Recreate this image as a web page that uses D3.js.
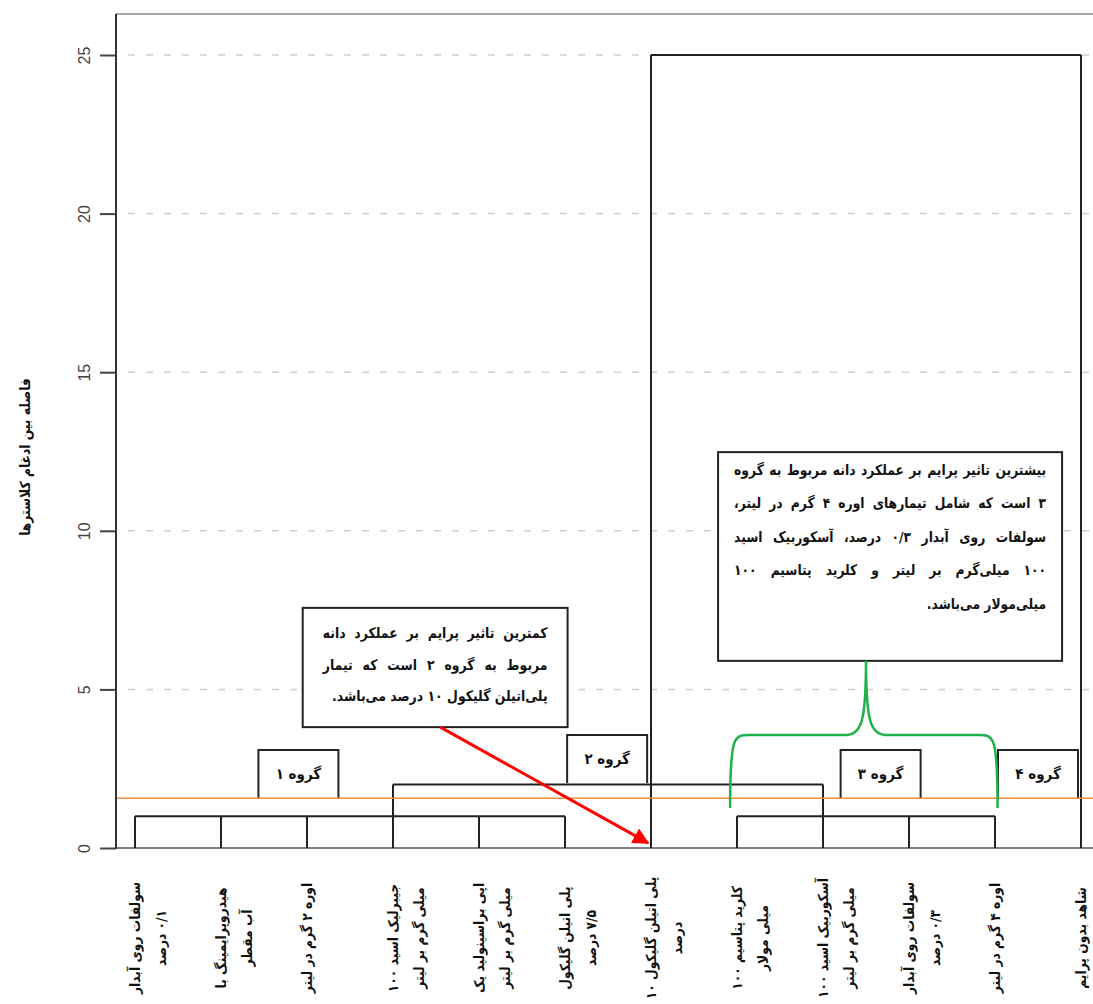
<!DOCTYPE html>
<html>
<head>
<meta charset="utf-8">
<script src="https://cdn.jsdelivr.net/npm/d3@7"></script>
<style>
  html, body { margin: 0; padding: 0; background: #fff; }
  svg { display: block; }
  .fa { font-family: "DejaVu Sans", sans-serif; font-weight: bold; }
</style>
</head>
<body>
<svg id="chart" width="1093" height="1004"></svg>
<script>
// Treatments (leaves of the dendrogram), left to right; each entry holds the label lines
const leafLabels = [
  ["سولفات روی آبدار", "۰/۱ درصد"],
  ["هیدروپرایمینگ با", "آب مقطر"],
  ["اوره ۲ گرم در لیتر"],
  ["جیبرلیک اسید ۱۰۰", "میلی گرم بر لیتر"],
  ["اپی براسینولید یک", "میلی گرم بر لیتر"],
  ["پلی اتیلن گلیکول", "۷/۵ درصد"],
  ["پلی اتیلن گلیکول ۱۰", "درصد"],
  ["کلرید پتاسیم ۱۰۰", "میلی مولار"],
  ["آسکوربیک اسید ۱۰۰", "میلی گرم بر لیتر"],
  ["سولفات روی آبدار", "۰/۳ درصد"],
  ["اوره ۴ گرم در لیتر"],
  ["شاهد بدون پرایم"]
];

// Cluster joins: leaves (by index) that are tied together, join height, and where the legs start
const joinLeaves  = [[0, 1, 2, 3, 4, 5], [7, 8, 9, 10], [3, 8], [6, 11]];
const joinHeights = [1, 1, 2, 25];
const joinBases   = [0, 0, 1, 0];

// Height where the tree is cut into groups
const cutHeight = 1.57;

// Axis
const yTicks = [0, 5, 10, 15, 20, 25];
const yTitle = "فاصله بین ادغام کلاسترها";

// Group names and callout texts
const groupNames = ["گروه ۱", "گروه ۲", "گروه ۳", "گروه ۴"];
const lowNote = [
  "کمترین تاثیر پرایم بر عملکرد دانه",
  "مربوط به گروه ۲ است که تیمار",
  "پلی‌اتیلن گلیکول ۱۰ درصد می‌باشد."
];
const highNote = [
  "بیشترین تاثیر پرایم بر عملکرد دانه مربوط به گروه",
  "۳ است که شامل تیمارهای اوره ۴ گرم در لیتر،",
  "سولفات روی آبدار ۰/۳ درصد، آسکوربیک اسید",
  "۱۰۰ میلی‌گرم بر لیتر و کلرید پتاسیم ۱۰۰",
  "میلی‌مولار می‌باشد."
];

// ---------------------------------------------------------------
const W = 1093, H = 1004;
const frameLeft = 116, frameTop = 14, frameRight = W;
const svg = d3.select("#chart");

const x = d3.scaleLinear().domain([0, leafLabels.length - 1]).range([135, 1081]);
const y = d3.scaleLinear().domain([0, 25]).range([848, 55]);

// grid lines
svg.append("g").selectAll("line").data(yTicks.filter(d => d > 0)).join("line")
  .attr("x1", frameLeft + 12).attr("x2", frameRight)
  .attr("y1", d => y(d)).attr("y2", d => y(d))
  .attr("stroke", "#cfcfcf").attr("stroke-width", 1.5)
  .attr("stroke-dasharray", "7,11");

// frame: top and bottom lines
svg.append("line").attr("x1", frameLeft).attr("x2", frameRight).attr("y1", frameTop).attr("y2", frameTop)
  .attr("stroke", "#8a8a8a").attr("stroke-width", 1.5);
svg.append("line").attr("x1", frameLeft).attr("x2", frameRight).attr("y1", y(0)).attr("y2", y(0))
  .attr("stroke", "#555").attr("stroke-width", 1.5);

// y axis
const yAxis = svg.append("g").attr("transform", `translate(${frameLeft},0)`)
  .call(d3.axisLeft(y).tickValues(yTicks).tickSize(16).tickSizeOuter(0).tickFormat(d3.format("d")));
yAxis.select(".domain").remove();
yAxis.selectAll(".tick line").attr("stroke", "#444").attr("stroke-width", 2);
yAxis.selectAll(".tick text")
  .attr("transform", "rotate(-90)")
  .attr("x", 0).attr("y", -32).attr("dy", null)
  .attr("text-anchor", "middle").attr("dominant-baseline", "central")
  .attr("fill", "#444")
  .style("font-family", "'Liberation Sans', Arial, sans-serif").style("font-size", "16px");
svg.append("line").attr("x1", frameLeft).attr("x2", frameLeft).attr("y1", frameTop).attr("y2", y(0) + 1)
  .attr("stroke", "#333").attr("stroke-width", 2);

// y title (narrowed along the text direction)
svg.append("text").attr("class", "fa")
  .attr("transform", `translate(25,457) rotate(-90) scale(0.88,1)`)
  .attr("text-anchor", "middle").attr("dominant-baseline", "central")
  .attr("direction", "rtl")
  .style("font-size", "14px").attr("fill", "#111")
  .text(yTitle);

// dendrogram
const tree = svg.append("g").attr("fill", "none").attr("stroke", "#222").attr("stroke-width", 2);
joinLeaves.forEach((leaves, j) => {
  const h = joinHeights[j], b = joinBases[j];
  tree.append("line")
    .attr("x1", x(d3.min(leaves))).attr("x2", x(d3.max(leaves)))
    .attr("y1", y(h)).attr("y2", y(h));
  leaves.forEach(i => {
    tree.append("line").attr("x1", x(i)).attr("x2", x(i)).attr("y1", y(b)).attr("y2", y(h));
  });
});

// leaf labels, read upwards, second line to the right of the first
const lab = svg.append("g").selectAll("g").data(leafLabels).join("g")
  .attr("transform", (d, i) => `translate(${x(i)},938) rotate(-90) scale(0.88,1)`);
lab.selectAll("text").data(d => d).join("text")
  .attr("class", "fa")
  .attr("y", (d, k) => k * 26)
  .attr("text-anchor", "middle").attr("dominant-baseline", "central")
  .attr("direction", "rtl")
  .style("font-size", "14px").attr("fill", "#111")
  .text(d => d);

// justified multi-line text inside a box (right to left); glyphs are narrowed so the
// longest line fits, then word spacing stretches the full lines to the box width
function noteBox(x0, x1, y0, y1, lines, opt) {
  const g = svg.append("g");
  g.append("rect").attr("x", x0).attr("y", y0).attr("width", x1 - x0).attr("height", y1 - y0)
    .attr("fill", "#fff").attr("stroke", "#222").attr("stroke-width", 2);
  const tx0 = x0 + opt.pad, tx1 = x1 - opt.pad, span = tx1 - tx0;
  const texts = lines.map((s, k) => g.append("text").attr("class", "fa")
      .attr("x", 0).attr("y", 0)
      .attr("direction", "rtl").attr("text-anchor", "start")
      .attr("dominant-baseline", "central")
      .style("font-size", opt.size + "px").attr("fill", "#111")
      .text(s));
  const widest = d3.max(texts, t => t.node().getComputedTextLength());
  const k = Math.min(1, span * opt.fill / widest);
  texts.forEach((t, i) => {
    t.attr("transform", `translate(${tx1},${opt.first + i * opt.step}) scale(${k},1)`);
    if (i < opt.justify) {
      const s = lines[i];
      const w = t.node().getComputedTextLength();
      const gaps = (s.match(/ /g) || []).length;
      if (gaps) t.attr("word-spacing", Math.max(0, (span / k - w) / gaps));
    }
  });
}

// group labels (open at the bottom, sitting on the cut or join line)
const groupLayout = [
  {c: 1.9,  b: cutHeight, t: 3.09},
  {c: 5.49, b: 2.05,      t: 3.56},
  {c: 8.67, b: cutHeight, t: 3.09},
  {c: 10.5, b: cutHeight, t: 3.09}
];
const gl = svg.append("g");
groupNames.forEach((name, k) => {
  const L = groupLayout[k];
  const xa = x(L.c) - 40, xb = x(L.c) + 40;
  gl.append("path")
    .attr("d", `M${xa},${y(L.b)}V${y(L.t)}H${xb}V${y(L.b)}`)
    .attr("fill", "#fff").attr("stroke", "#222").attr("stroke-width", 2);
  gl.append("text").attr("class", "fa")
    .attr("transform", `translate(${x(L.c)},${(y(L.b) + y(L.t)) / 2}) scale(0.9,1)`)
    .attr("text-anchor", "middle").attr("dominant-baseline", "central")
    .attr("direction", "rtl")
    .style("font-size", "15px").attr("fill", "#111")
    .text(name);
});

// cut line
svg.append("line").attr("x1", frameLeft + 1).attr("x2", frameRight)
  .attr("y1", y(cutHeight)).attr("y2", y(cutHeight))
  .attr("stroke", "#f28e3c").attr("stroke-width", 1.6);

// callouts
noteBox(x(1.95), x(5.03), y(7.57), y(3.81), lowNote,
  {pad: 20, first: 633, step: 31.5, size: 14.5, fill: 0.96, justify: 2});
noteBox(x(6.78), x(10.78), y(12.48), y(5.9), highNote,
  {pad: 16, first: 470, step: 33.5, size: 14.5, fill: 0.97, justify: 4});

// red arrow towards the weakest treatment
const defs = svg.append("defs");
defs.append("marker").attr("id", "head").attr("viewBox", "0 0 10 10")
  .attr("refX", 9).attr("refY", 5).attr("markerWidth", 5.5).attr("markerHeight", 5.5)
  .attr("orient", "auto")
  .append("path").attr("d", "M0,0L10,5L0,10z").attr("fill", "#ff0000");
svg.append("line")
  .attr("x1", x(3.55)).attr("y1", y(3.81))
  .attr("x2", x(5.965)).attr("y2", y(0.16))
  .attr("stroke", "#ff0000").attr("stroke-width", 3)
  .attr("marker-end", "url(#head)");

// green brace over group 3
const bl = x(6.92), br = x(10.03), bm = x(8.5);
const by = y(3.56), tip = y(1.26), peak = y(5.9);
svg.append("path")
  .attr("d", `M${bl},${tip} C${bl},${by - 8} ${bl + 4},${by} ${bl + 28},${by}` +
             ` L${bm - 22},${by} C${bm - 4},${by} ${bm},${by - 14} ${bm},${peak}` +
             ` C${bm},${by - 14} ${bm + 4},${by} ${bm + 22},${by}` +
             ` L${br - 28},${by} C${br - 4},${by} ${br},${by - 8} ${br},${tip}`)
  .attr("fill", "none").attr("stroke", "#1fb14a").attr("stroke-width", 2.5);
</script>
</body>
</html>
